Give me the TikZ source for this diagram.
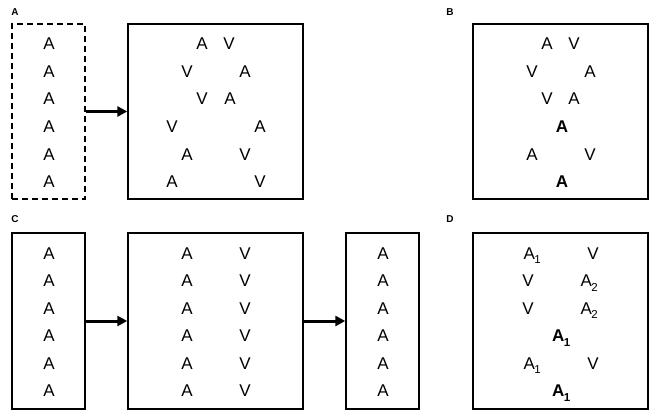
\documentclass[tikz,border=0pt]{standalone}
\usepackage{fontspec}
\setmainfont{Liberation Sans}
\usetikzlibrary{arrows.meta}
\newcommand{\subA}[1]{A\kern-0.5pt\rlap{\raisebox{-4.5pt}{\fontsize{11.5}{11.5}\selectfont #1}}}
\newcommand{\subAb}[1]{\textbf{A\kern-0.5pt\rlap{\raisebox{-4.5pt}{\fontsize{11.5}{11.5}\selectfont #1}}}}
\begin{document}
\begin{tikzpicture}[x=1pt,y=-1pt,
  box/.style={draw,line width=1.4pt,inner sep=0pt,minimum width=#1,minimum height=175pt},
  dbox/.style={box=#1,dash pattern=on 6pt off 4pt},
  lt/.style={inner sep=0pt,text height=12.2pt,text depth=0pt,font=\fontsize{17}{17}\selectfont},
  lab/.style={inner sep=0pt,font=\fontsize{10}{10}\selectfont\bfseries},
  arr/.style={line width=3pt,-{Triangle[length=10pt,width=10pt]}}]
\useasboundingbox (0,0) rectangle (661,417);
% ---------- Panel A ----------
\node[lab] (labA) at (15,12) {A};
\node[dbox=73pt] (A1) at (48.5,111.5) {};
\node[box=175pt] (A2) at (215.5,111.5) {};
\foreach \y [count=\i] in {43,71,98.5,126,154,181.5}
  \node[lt] (aa\i) at (49,\y) {A};
\node[lt] (a21) at (202,43) {A};   \node[lt] (a22) at (229,43) {V};
\node[lt] (a23) at (187,71) {V};   \node[lt] (a24) at (245,71) {A};
\node[lt] (a25) at (202,98.5) {V}; \node[lt] (a26) at (230,98.5) {A};
\node[lt] (a27) at (172,126) {V};  \node[lt] (a28) at (260,126) {A};
\node[lt] (a29) at (187,154) {A};  \node[lt] (a210) at (245,154) {V};
\node[lt] (a211) at (172,181.5) {A}; \node[lt] (a212) at (260,181.5) {V};
\draw[arr] (A1.east) -- (A2.west);
% ---------- Panel B ----------
\node[lab] (labB) at (450,12) {B};
\node[box=175pt] (B1) at (560.5,111.5) {};
\node[lt] (b1) at (547,43) {A};   \node[lt] (b2) at (574,43) {V};
\node[lt] (b3) at (532,71) {V};   \node[lt] (b4) at (590,71) {A};
\node[lt] (b5) at (547,98.5) {V}; \node[lt] (b6) at (574,98.5) {A};
\node[lt,font=\fontsize{17}{17}\selectfont\bfseries] (b7) at (562,126) {A};
\node[lt] (b8) at (532,154) {A};  \node[lt] (b9) at (590,154) {V};
\node[lt,font=\fontsize{17}{17}\selectfont\bfseries] (b10) at (562,181.5) {A};
% ---------- Panel C ----------
\node[lab] (labC) at (15,219) {C};
\node[box=73pt,minimum height=176pt] (C1) at (48.5,321) {};
\node[box=175pt,minimum height=176pt] (C2) at (215.5,321) {};
\node[box=73pt,minimum height=176pt] (C3) at (382.5,321) {};
\foreach \y [count=\i] in {253,280.5,308,335.5,363,390.5}{
  \node[lt] (c1\i) at (49,\y) {A};
  \node[lt] (c2a\i) at (187,\y) {A};
  \node[lt] (c2v\i) at (245,\y) {V};
  \node[lt] (c3\i) at (383,\y) {A};
}
\draw[arr] (C1.east) -- (C2.west);
\draw[arr] (C2.east) -- (C3.west);
% ---------- Panel D ----------
\node[lab] (labD) at (450,219) {D};
\node[box=175pt,minimum height=176pt] (D1) at (560.5,321) {};
\node[lt] (d1) at (529,253) {\subA{1}};   \node[lt] (d2) at (593,253) {V};
\node[lt] (d3) at (528,280.5) {V};        \node[lt] (d4) at (586,280.5) {\subA{2}};
\node[lt] (d5) at (528,308) {V};          \node[lt] (d6) at (586,308) {\subA{2}};
\node[lt] (d7) at (558,335.5) {\subAb{1}};
\node[lt] (d8) at (529,363) {\subA{1}};   \node[lt] (d9) at (593,363) {V};
\node[lt] (d10) at (558,390.5) {\subAb{1}};
\end{tikzpicture}
\end{document}
